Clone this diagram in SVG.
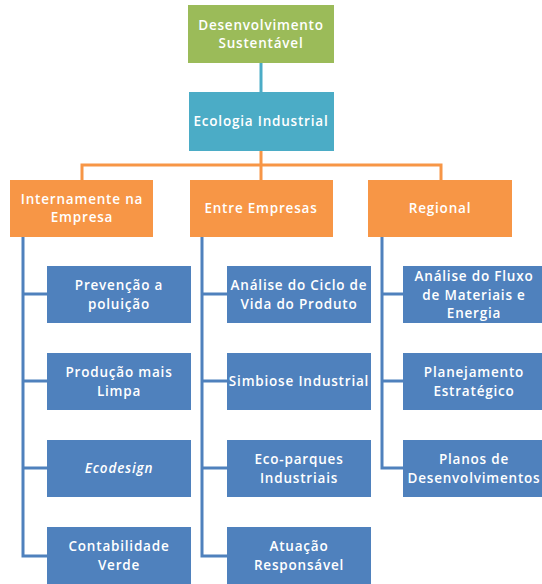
<svg xmlns="http://www.w3.org/2000/svg" width="542" height="584" viewBox="0 0 542 584">
<style>
.t{font-family:"Open Sans","Noto Sans",sans-serif;font-size:13.5px;font-weight:600;letter-spacing:0.8px;fill:#fff;text-anchor:middle}
.b{fill:#4F81BD}
.o{fill:#F79646}
.cb{stroke:#4F81BD;stroke-width:3;fill:none}
.co{stroke:#F79646;stroke-width:3;fill:none}
</style>
<rect width="542" height="584" fill="#fff"/>
<g id="connectors">
<line x1="261" y1="63" x2="261" y2="92" stroke="#4BACC6" stroke-width="3"/>
<path class="co" d="M261 151V165M82 180V165H441V180M261 165V180"/>
<path class="cb" d="M23 237V556H47M23 294H47M23 381H47M23 468H47"/>
<path class="cb" d="M202 237V556H227M202 294H227M202 381H227M202 468H227"/>
<path class="cb" d="M382 237V468H403M382 294H403M382 381H403"/>
</g>
<g id="n-desenvolvimento"><rect x="188" y="5" width="146" height="58" fill="#9BBB59"/><text class="t" x="261" y="29.5">Desenvolvimento</text><text class="t" x="261" y="48">Sustentável</text></g>
<g id="n-ecologia"><rect x="189" y="92" width="145" height="59" fill="#4BACC6"/><text class="t" x="261" y="126">Ecologia Industrial</text></g>
<g id="n-internamente"><rect class="o" x="10" y="180" width="143" height="57"/><text class="t" x="82" y="203.5">Internamente na</text><text class="t" x="82" y="222">Empresa</text></g>
<g id="n-entre"><rect class="o" x="190" y="180" width="143" height="57"/><text class="t" x="261" y="213">Entre Empresas</text></g>
<g id="n-regional"><rect class="o" x="368" y="180" width="144" height="57"/><text class="t" x="440" y="213">Regional</text></g>
<g id="n-prevencao"><rect class="b" x="47" y="266" width="144" height="57"/><text class="t" x="119" y="290">Prevenção a</text><text class="t" x="119" y="308.5">poluição</text></g>
<g id="n-producao"><rect class="b" x="47" y="353" width="144" height="57"/><text class="t" x="119" y="377">Produção mais</text><text class="t" x="119" y="395.5">Limpa</text></g>
<g id="n-ecodesign"><rect class="b" x="47" y="440" width="144" height="57"/><text class="t" x="119" y="473" font-style="italic">Ecodesign</text></g>
<g id="n-contabilidade"><rect class="b" x="47" y="527" width="144" height="57"/><text class="t" x="119" y="551">Contabilidade</text><text class="t" x="119" y="569.5">Verde</text></g>
<g id="n-analise-ciclo"><rect class="b" x="227" y="266" width="144" height="57"/><text class="t" x="299" y="290">Análise do Ciclo de</text><text class="t" x="299" y="308.5">Vida do Produto</text></g>
<g id="n-simbiose"><rect class="b" x="227" y="353" width="144" height="57"/><text class="t" x="299" y="386">Simbiose Industrial</text></g>
<g id="n-ecoparques"><rect class="b" x="227" y="440" width="144" height="57"/><text class="t" x="299" y="464">Eco-parques</text><text class="t" x="299" y="482.5">Industriais</text></g>
<g id="n-atuacao"><rect class="b" x="227" y="527" width="144" height="57"/><text class="t" x="299" y="551">Atuação</text><text class="t" x="299" y="569.5">Responsável</text></g>
<g id="n-analise-fluxo"><rect class="b" x="403" y="266" width="142" height="57"/><text class="t" x="474" y="281">Análise do Fluxo</text><text class="t" x="474" y="299.5">de Materiais e</text><text class="t" x="474" y="318">Energia</text></g>
<g id="n-planejamento"><rect class="b" x="403" y="353" width="142" height="57"/><text class="t" x="474" y="377">Planejamento</text><text class="t" x="474" y="395.5">Estratégico</text></g>
<g id="n-planos"><rect class="b" x="403" y="440" width="142" height="57"/><text class="t" x="474" y="464">Planos de</text><text class="t" x="474" y="482.5">Desenvolvimentos</text></g>
</svg>
